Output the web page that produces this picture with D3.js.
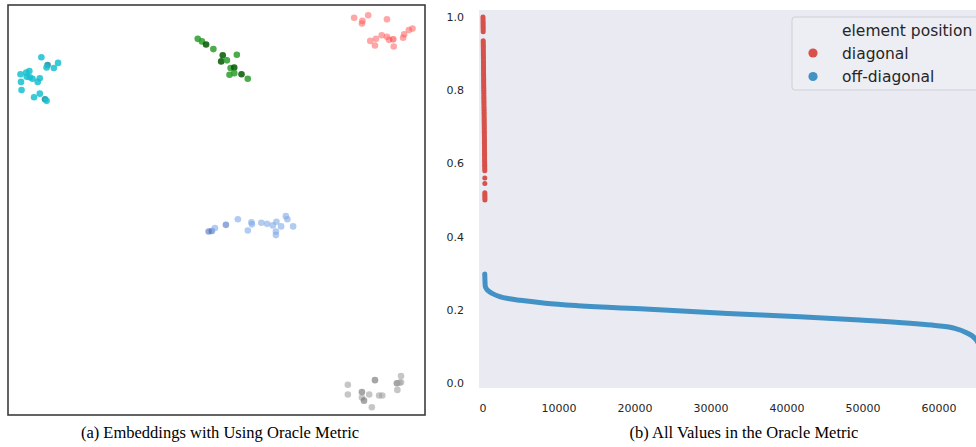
<!DOCTYPE html>
<html>
<head>
<meta charset="utf-8">
<script src="https://cdn.jsdelivr.net/npm/d3@7"></script>
<style>
  body { margin: 0; background: #fff; }
  svg { display: block; }
</style>
</head>
<body>
<svg id="chart" width="976" height="447"></svg>
<script>
// embedding coordinates [x, y, dark]
var cyanPoints = [
    [-33.6, 29.8, 0], [-30.4, 28.7, 0], [-32.4, 28.3, 1], [-32.6, 27.8, 0], [-31.2, 27.7, 0],
    [-37.6, 26.5, 0], [-36.5, 26.8, 0], [-35.9, 27.1, 0], [-36.4, 26.0, 0], [-35.8, 25.9, 0],
    [-35.3, 25.6, 0], [-33.9, 25.7, 0], [-34.3, 25.0, 0], [-37.5, 25.0, 0], [-37.4, 23.4, 0],
    [-35.0, 22.0, 0], [-33.9, 22.7, 0], [-32.9, 21.6, 1], [-32.6, 21.3, 0]
];
var greenPoints = [
    [-3.6, 33.4, 0], [-2.8, 32.9, 0], [-2.0, 32.3, 1], [-0.6, 31.4, 0], [1.2, 30.2, 1],
    [3.9, 30.3, 0], [0.9, 29.0, 1], [2.0, 29.2, 0], [2.7, 27.7, 0], [3.4, 27.8, 1],
    [2.5, 26.4, 0], [3.4, 26.7, 0], [4.8, 26.5, 1], [6.0, 25.6, 0]
];
var redPoints = [
    [26.4, 37.5, 0], [28.0, 36.9, 0], [27.9, 36.4, 0], [29.1, 38.0, 0], [32.7, 37.2, 0],
    [29.5, 33.0, 0], [30.6, 33.4, 0], [30.4, 32.1, 0], [31.7, 34.1, 0], [32.7, 33.8, 0],
    [33.1, 33.2, 0], [33.9, 33.3, 1], [34.0, 31.9, 0], [35.8, 33.6, 0], [36.0, 34.3, 0],
    [36.9, 35.1, 0], [37.6, 35.4, 0]
];
var bluePoints = [
    [-1.5, -4.2, 1], [-0.9, -4.1, 1], [-0.3, -3.5, 0], [1.8, -2.9, 1], [4.1, -1.8, 0],
    [6.0, -4.0, 0], [6.7, -2.4, 0], [6.8, -2.8, 0], [8.6, -2.5, 0], [9.7, -2.7, 0],
    [10.8, -3.0, 0], [11.5, -2.3, 0], [12.4, -3.2, 0], [11.4, -4.2, 0], [11.4, -4.9, 0],
    [13.3, -1.2, 0], [13.6, -1.8, 0], [14.7, -3.2, 0]
];
var grayPoints = [
    [25.2, -34.1, 0], [25.2, -36.0, 0], [27.9, -35.5, 1], [27.9, -36.6, 0], [28.3, -37.2, 1],
    [29.3, -36.0, 0], [30.4, -33.2, 1], [31.2, -36.2, 0], [31.8, -36.2, 0], [29.8, -38.5, 0],
    [34.6, -33.8, 1], [35.1, -33.7, 0], [35.4, -32.4, 0], [35.4, -33.6, 0], [34.7, -35.1, 0]
];

// sorted oracle metric values
var diagValues = [
    1.0, 0.995, 0.99, 0.985, 0.98, 0.975, 0.97, 0.965, 0.96,
    0.935, 0.93, 0.925, 0.92, 0.915, 0.91, 0.905, 0.90, 0.895, 0.89, 0.885, 0.88,
    0.875, 0.87, 0.865, 0.86, 0.855, 0.85, 0.845, 0.84, 0.835, 0.83, 0.825, 0.82,
    0.815, 0.81, 0.805, 0.80, 0.795, 0.79, 0.785, 0.78, 0.775, 0.77, 0.765, 0.76,
    0.755, 0.75, 0.745, 0.74, 0.735, 0.73, 0.725, 0.72, 0.715, 0.71, 0.705, 0.70,
    0.695, 0.69, 0.685, 0.68, 0.675, 0.67, 0.665, 0.66, 0.655, 0.65, 0.645, 0.64,
    0.635, 0.63, 0.625, 0.62, 0.615, 0.61, 0.605, 0.60, 0.595, 0.59, 0.585, 0.58,
    0.56, 0.545, 0.52, 0.515, 0.51, 0.505, 0.50
];
var diagCount = 256;
var offIndex = [230, 300, 500, 800, 1200, 2200, 3500, 4900, 8200, 12500, 21300, 32200, 41700, 49600, 56200, 59500, 62100, 63550, 64870, 65400];
var offValues = [0.298, 0.264, 0.256, 0.250, 0.245, 0.236, 0.230, 0.226, 0.218, 0.211, 0.202, 0.190, 0.181, 0.172, 0.163, 0.157, 0.149, 0.138, 0.119, 0.10];

var xTicks = [0, 10000, 20000, 30000, 40000, 50000, 60000];
var yTicks = [0.0, 0.2, 0.4, 0.6, 0.8, 1.0];
var legendTitle = "element position";
var legendLabels = ["diagonal", "off-diagonal"];

var diagColor = "#d6524a";
var offColor = "#4292c6";

var svg = d3.select("#chart");

drawEmbeddings();
drawValues();
drawCaptions();

function drawEmbeddings() {
    var box = {left: 8, top: 5, right: 425, bottom: 415};
    var x = d3.scaleLinear().domain([-40, 40]).range([box.left, box.right]);
    var y = d3.scaleLinear().domain([-40, 40]).range([box.bottom, box.top]);

    var groups = [
        {data: cyanPoints, color: "#17bfd0", dark: "#168ea3", opacity: 0.85},
        {data: greenPoints, color: "#2a9d2a", dark: "#005a00", opacity: 0.85},
        {data: redPoints, color: "#ff5c5c", dark: "#ff3030", opacity: 0.55},
        {data: bluePoints, color: "#7fa8e8", dark: "#4a70c2", opacity: 0.6},
        {data: grayPoints, color: "#a0a0a0", dark: "#6a6a6a", opacity: 0.6}
    ];

    var g = svg.append("g").attr("class", "embeddings");
    groups.forEach(function(group) {
        g.selectAll(null)
            .data(group.data)
            .enter()
            .append("circle")
            .attr("cx", function(d) { return x(d[0]); })
            .attr("cy", function(d) { return y(d[1]); })
            .attr("r", 3.3)
            .attr("fill", function(d) { return d[2] ? group.dark : group.color; })
            .attr("fill-opacity", group.opacity);
    });

    g.append("rect")
        .attr("x", box.left)
        .attr("y", box.top)
        .attr("width", box.right - box.left)
        .attr("height", box.bottom - box.top)
        .attr("fill", "none")
        .attr("stroke", "#3c3c3c")
        .attr("stroke-width", 1.6);
}

function drawValues() {
    var area = {left: 479, top: 10, right: 976, bottom: 388};
    var x = d3.scaleLinear().domain([-526, 64870]).range([area.left, area.right]);
    var y = d3.scaleLinear().domain([-0.0137, 1.0191]).range([area.bottom, area.top]);

    var g = svg.append("g").attr("class", "values");

    svg.append("clipPath")
        .attr("id", "plotClip")
        .append("rect")
        .attr("x", area.left)
        .attr("y", area.top)
        .attr("width", area.right - area.left)
        .attr("height", area.bottom - area.top);

    g.append("rect")
        .attr("x", area.left)
        .attr("y", area.top)
        .attr("width", area.right - area.left)
        .attr("height", area.bottom - area.top)
        .attr("fill", "#eaeaf2");

    var plot = g.append("g").attr("clip-path", "url(#plotClip)");

    var line = d3.line()
        .x(function(d, i) { return x(offIndex[i]); })
        .y(function(d) { return y(d); })
        .curve(d3.curveMonotoneX);

    plot.append("path")
        .datum(offValues)
        .attr("d", line)
        .attr("fill", "none")
        .attr("stroke", offColor)
        .attr("stroke-width", 5)
        .attr("stroke-linecap", "round");

    var rank = d3.scaleLinear().domain([0, diagValues.length - 1]).range([0, diagCount - 1]);
    plot.selectAll(".diag")
        .data(diagValues)
        .enter()
        .append("circle")
        .attr("class", "diag")
        .attr("cx", function(d, i) { return x(rank(i)); })
        .attr("cy", function(d) { return y(d); })
        .attr("r", 2.5)
        .attr("fill", diagColor);

    var tickFont = "'DejaVu Sans', sans-serif";

    g.selectAll(".ytick")
        .data(yTicks)
        .enter()
        .append("text")
        .attr("class", "ytick")
        .attr("x", 464)
        .attr("y", function(d) { return y(d); })
        .attr("dy", "0.36em")
        .attr("text-anchor", "end")
        .attr("font-family", tickFont)
        .attr("font-size", 11)
        .attr("fill", "#262626")
        .text(d3.format(".1f"));

    g.selectAll(".xtick")
        .data(xTicks)
        .enter()
        .append("text")
        .attr("class", "xtick")
        .attr("x", function(d) { return x(d); })
        .attr("y", 408)
        .attr("dy", "0.36em")
        .attr("text-anchor", "middle")
        .attr("font-family", tickFont)
        .attr("font-size", 11)
        .attr("fill", "#262626")
        .text(function(d) { return d; });

    // legend, cut off by the right edge like the original
    var legend = g.append("g").attr("class", "legend");
    legend.append("rect")
        .attr("x", 792)
        .attr("y", 17)
        .attr("width", 200)
        .attr("height", 73)
        .attr("rx", 3)
        .attr("fill", "#eeeef4")
        .attr("fill-opacity", 0.8)
        .attr("stroke", "#cfcfd6")
        .attr("stroke-width", 1);

    legend.append("text")
        .attr("x", 842)
        .attr("y", 30)
        .attr("dy", "0.36em")
        .attr("font-family", tickFont)
        .attr("font-size", 15.5)
        .attr("fill", "#262626")
        .text(legendTitle);

    var colors = [diagColor, offColor];
    legendLabels.forEach(function(label, i) {
        var ly = 53 + i * 23.5;
        legend.append("circle")
            .attr("cx", 813)
            .attr("cy", ly)
            .attr("r", 4.6)
            .attr("fill", colors[i]);
        legend.append("text")
            .attr("x", 842)
            .attr("y", ly)
            .attr("dy", "0.36em")
            .attr("font-family", tickFont)
            .attr("font-size", 15.5)
            .attr("fill", "#262626")
            .text(label);
    });
}

function drawCaptions() {
    var captions = [
        {text: "(a) Embeddings with Using Oracle Metric", x: 220},
        {text: "(b) All Values in the Oracle Metric", x: 744}
    ];
    svg.selectAll(".caption")
        .data(captions)
        .enter()
        .append("text")
        .attr("class", "caption")
        .attr("x", function(d) { return d.x; })
        .attr("y", 438)
        .attr("text-anchor", "middle")
        .attr("font-family", "'Liberation Serif', 'Times New Roman', serif")
        .attr("font-size", 16.5)
        .attr("fill", "#000")
        .text(function(d) { return d.text; });
}
</script>
</body>
</html>
